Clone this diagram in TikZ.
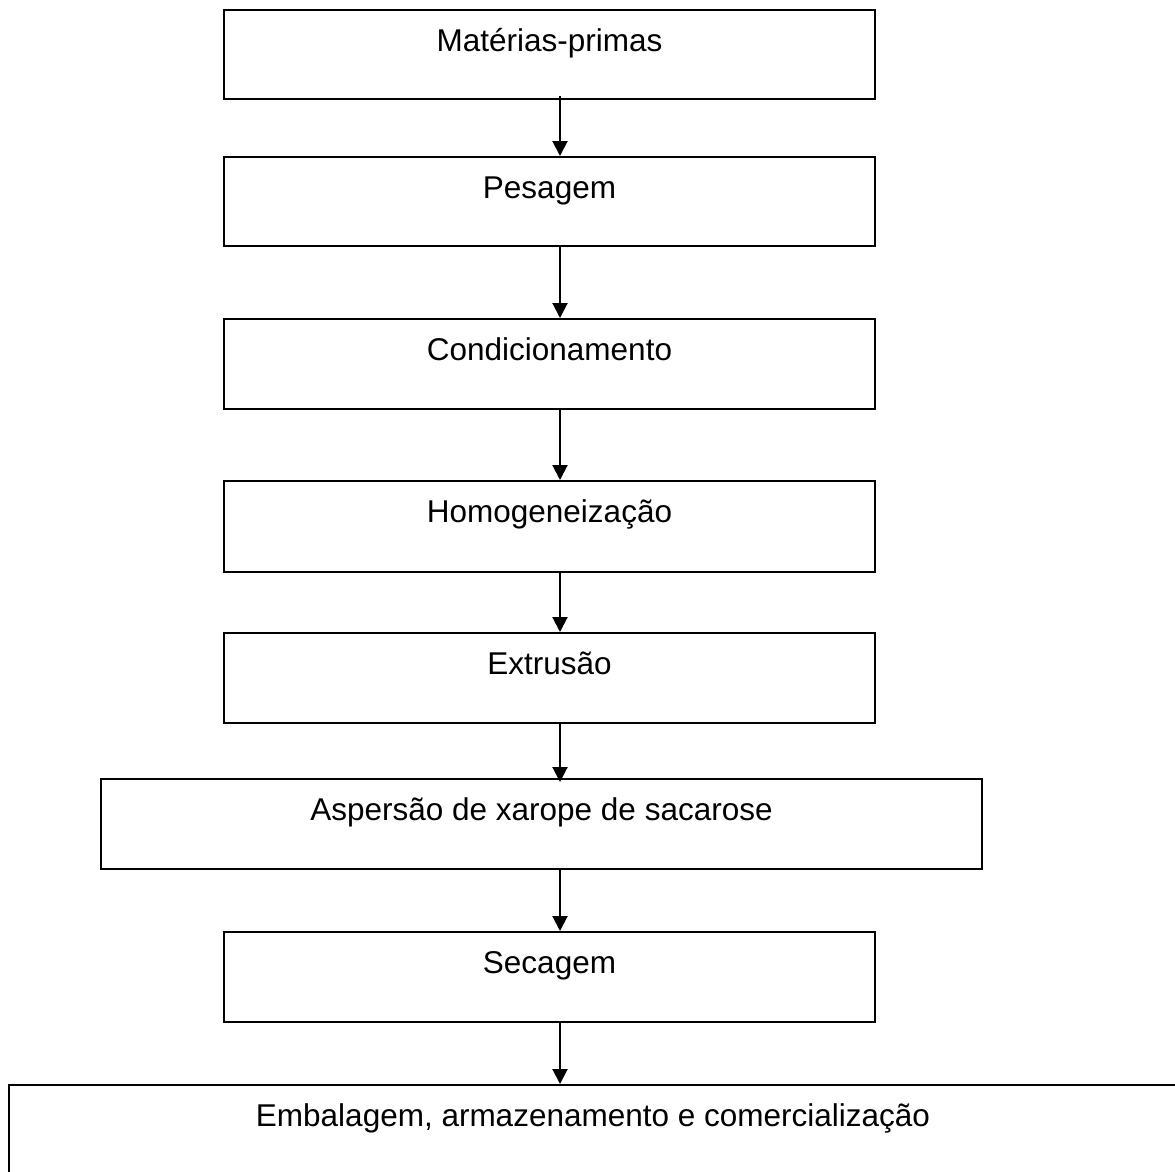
\documentclass[tikz,border=0pt]{standalone}
\usepackage{fontspec}
\setmainfont{Liberation Sans}
\usetikzlibrary{arrows.meta}

\begin{document}
\begin{tikzpicture}[x=1pt,y=-1pt,
  stepbox/.style={draw=black, line width=2pt, rectangle, inner sep=0pt},
  steptext/.style={anchor=base, yshift=-42pt, font=\fontsize{31.5pt}{36pt}\selectfont, inner sep=0pt},
  flow/.style={line width=2pt, -{Triangle[width=15pt,length=15pt]}}]
  \useasboundingbox (0,0) rectangle (1175,1171);

  % process steps (centre, width, height)
  \node[stepbox, minimum width=651pt, minimum height=89pt,
        label={[steptext]north:Matérias-primas}] (b1) at (549.5,54.5) {};
  \node[stepbox, minimum width=651pt, minimum height=89pt,
        label={[steptext]north:Pesagem}] (b2) at (549.5,201.5) {};
  \node[stepbox, minimum width=651pt, minimum height=90pt,
        label={[steptext]north:Condicionamento}] (b3) at (549.5,364) {};
  \node[stepbox, minimum width=651pt, minimum height=91pt,
        label={[steptext]north:Homogeneização}] (b4) at (549.5,526.5) {};
  \node[stepbox, minimum width=651pt, minimum height=90pt,
        label={[steptext]north:Extrusão}] (b5) at (549.5,678) {};
  \node[stepbox, minimum width=881pt, minimum height=90pt,
        label={[steptext]north:Aspersão de xarope de sacarose}] (b6) at (541.5,824) {};
  \node[stepbox, minimum width=651pt, minimum height=90pt,
        label={[steptext]north:Secagem}] (b7) at (549.5,977) {};
  \node[stepbox, minimum width=1168pt, minimum height=92pt,
        label={[steptext]north:Embalagem, armazenamento e comercialização}] (b8) at (593,1131) {};

  % vertical axis of the connectors
  \coordinate (ax) at (560,0);

  \draw[flow] ([yshift=4pt]b1.south -| ax) -- (b2.north -| ax);
  \draw[flow] (b2.south -| ax) -- (b3.north -| ax);
  \draw[flow] (b3.south -| ax) -- (b4.north -| ax);
  \draw[flow] (b4.south -| ax) -- (b5.north -| ax);
  \draw[flow] (b5.south -| ax) -- ([yshift=-4pt]b6.north -| ax);
  \draw[flow] (b6.south -| ax) -- (b7.north -| ax);
  \draw[flow] (b7.south -| ax) -- (b8.north -| ax);
\end{tikzpicture}
\end{document}
